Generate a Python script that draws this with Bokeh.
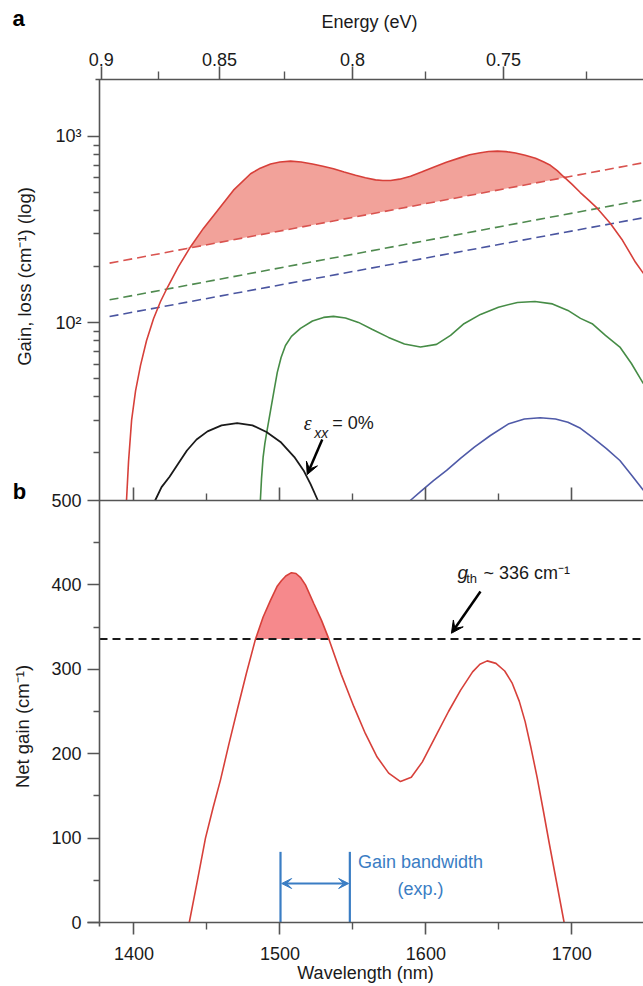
import numpy as np
from bokeh.plotting import figure
from bokeh.models import (Range1d, LogScale, LinearAxis, FixedTicker,
                          CustomJSTickFormatter, Label, Arrow, VeeHead)
from bokeh.embed import file_html
from bokeh.resources import INLINE

# ---------------- data ----------------
# Panel a: gain spectra (cm^-1, log scale) vs wavelength (nm)
red_wl = [1394.9, 1396.3, 1398.4, 1401.1, 1404.5, 1408.6, 1413.4, 1418.2, 1423.0, 1430.5,
          1438.8, 1447.7, 1457.3, 1468.2, 1479.9, 1486.5, 1493.6, 1500.0, 1507.3, 1514.5,
          1522.3, 1529.5, 1536.7, 1544.0, 1551.8, 1558.5, 1565.5, 1570.5, 1575.8, 1582.0,
          1589.5, 1597.0, 1605.2, 1614.0, 1623.7, 1630.0, 1637.4, 1643.0, 1649.0, 1655.0,
          1661.4, 1668.0, 1675.1, 1680.5, 1685.3, 1690.0, 1694.2, 1700.0, 1705.8, 1711.5,
          1717.5, 1726.4, 1734.7, 1743.6, 1749.0]
red_gain = [11.1, 18, 30, 43, 59, 80, 105, 130, 155, 200,
            256, 322, 401, 515, 631, 676, 712, 730, 737, 730,
            712, 692, 671, 645, 620, 600, 585, 580, 580, 590,
            612, 645, 684, 727, 770, 797, 818, 830, 834, 829,
            815, 793, 765, 731, 700, 656, 610, 555, 500, 455,
            411, 341, 277, 211, 184]

green_wl = [1486.6, 1487.4, 1488.5, 1489.7, 1491.2, 1493.6, 1496.0, 1498.2, 1500.8, 1503.8,
            1507.9, 1514.1, 1522.3, 1529.9, 1536.7, 1544.9, 1553.8, 1563.4, 1574.4, 1585.3,
            1596.3, 1607.3, 1616.9, 1626.1, 1637.4, 1649.7, 1662.7, 1674.7, 1686.7, 1697.3,
            1705.9, 1713.9, 1723.0, 1732.9, 1740.8, 1749.0]
green_gain = [11.1, 14.6, 19.0, 22.5, 26.4, 33.8, 43.3, 54.1, 65.1, 75.5,
              84.4, 93.2, 102.2, 106.8, 108.1, 106.1, 100.4, 92.0, 83.4, 76.9,
              74.0, 76.5, 85.5, 98.8, 110.8, 121.2, 128.5, 130.1, 126.2, 116.4,
              105.5, 98.8, 85.5, 74.0, 60.4, 47.1]

blue_wl = [1589.3, 1596.3, 1605.2, 1614.2, 1623.7, 1633.2, 1644.2, 1656.9, 1667.5, 1678.3,
           1688.8, 1697.3, 1705.9, 1713.9, 1723.7, 1732.9, 1741.5, 1749.0]
blue_gain = [11.1, 12.4, 14.2, 16.1, 18.7, 21.5, 24.8, 28.7, 30.4, 30.9,
             30.4, 29.2, 27.1, 24.3, 21.1, 18.2, 15.0, 12.6]

black_wl = [1414.5, 1418.9, 1424.4, 1430.5, 1436.3, 1442.9, 1450.4, 1460.0, 1470.7, 1481.2,
            1490.8, 1500.4, 1509.9, 1516.2, 1521.0, 1526.0]
black_gain = [11.1, 13.1, 14.9, 17.6, 20.6, 23.6, 26.1, 28.1, 28.9, 28.1,
              25.9, 22.9, 19.0, 16.1, 13.6, 11.1]

# losses (dashed, straight on the log scale)
loss_wl = [1383.3, 1749.0]
loss_red = [209, 723]
loss_green = [132.7, 457]
loss_blue = [108, 366]

# Panel b: net gain (cm^-1)
net_wl = [1437.9, 1443.5, 1449.0, 1454.2, 1459.3, 1465.0, 1470.8, 1477.0, 1483.3, 1488.5,
          1493.6, 1498.0, 1501.0, 1504.0, 1507.9, 1511.0, 1514.0, 1517.5, 1523.2, 1528.5,
          1533.5, 1542.0, 1550.6, 1558.5, 1566.6, 1574.5, 1582.6, 1590.0, 1597.5, 1607.7,
          1615.5, 1623.7, 1632.0, 1637.0, 1642.0, 1648.0, 1654.0, 1659.0, 1664.0, 1668.0,
          1672.0, 1676.2, 1680.4, 1684.6, 1689.5, 1694.7]
net_gain = [0, 50, 100, 136, 169, 211, 252, 295, 336, 362,
            382, 398, 405, 410.5, 414.5, 413.5, 409, 400, 378, 358,
            336, 294, 256, 224, 196, 177, 167, 172, 190, 224,
            250, 275, 297, 306, 310, 307, 298, 284, 262, 238,
            207, 172, 133, 93, 48, 0]
g_th = 336
bw_edges = [1500.4, 1547.9]

# ticks
HC = 1239.84
energy_major = [0.9, 0.85, 0.8, 0.75]
energy_minor = [0.875, 0.825, 0.775, 0.725]
wl_major = [1400, 1500, 1600, 1700]
wl_minor = [1450, 1550, 1650]
net_major = [0, 100, 200, 300, 400, 500]
net_minor = [50, 150, 250, 350, 450]
log_major = [100, 1000]
log_minor = [20, 30, 40, 50, 60, 70, 80, 90, 200, 300, 400, 500, 600, 700, 800, 900]

# ---------------- layout (pixels) ----------------
FONT = "Liberation Sans"
AX = "#555555"
TXT = "#1a1a1a"
W, H = 643, 986
LEFT, TOP, SPLIT, BOTTOM = 99, 79, 500, 922      # plot-area edges on the canvas
PX_PER_NM = 1.4597
X0 = 1376.4                                       # wavelength at the left axis
B_MAX = 500                                       # panel b top value
A_MIN, A_MAX = 11.1, 2023.0                       # panel a log range

x_start = X0 - LEFT / PX_PER_NM
x_end = X0 + (W - LEFT) / PX_PER_NM
b_px = (BOTTOM - SPLIT) / B_MAX                   # px per net-gain unit
y_start = -(H - BOTTOM) / b_px
y_end = BOTTOM / b_px
top_val = (BOTTOM - TOP) / b_px                   # main-range value at the top axis
dpp = (np.log10(A_MAX) - np.log10(A_MIN)) / (SPLIT - TOP)   # decades per px
a_start = 10 ** (np.log10(A_MIN) - (H - SPLIT) * dpp)
a_end = 10 ** (np.log10(A_MAX) + TOP * dpp)


def on_shared_axis(g):
    """position of a panel-a (log) value on the shared left axis (panel-b units)"""
    return B_MAX + (np.log10(g) - np.log10(A_MIN)) / dpp / b_px


def px_x(px):
    return x_start + px / PX_PER_NM


def px_y(py):
    return (BOTTOM - py) / b_px


p = figure(width=W, height=H, min_border=0, min_border_left=0, min_border_right=0,
           min_border_top=0, min_border_bottom=0,
           x_range=Range1d(x_start, x_end), y_range=Range1d(y_start, y_end),
           x_axis_location=None, y_axis_location=None,
           output_backend="svg", toolbar_location=None)
p.outline_line_color = None
p.grid.visible = False
p.background_fill_color = "white"
p.border_fill_color = "white"
p.extra_y_ranges = {"loga": Range1d(a_start, a_end)}
p.extra_y_scales = {"loga": LogScale()}


def style(ax, tout, mout, tin=0, min_=0):
    ax.axis_line_color = AX
    ax.axis_line_width = 1.6
    ax.major_tick_line_color = AX
    ax.major_tick_line_width = 1.6
    ax.minor_tick_line_color = AX
    ax.minor_tick_line_width = 1.4
    ax.major_tick_out = tout
    ax.major_tick_in = tin
    ax.minor_tick_out = mout
    ax.minor_tick_in = min_
    ax.major_label_text_font = FONT
    ax.major_label_text_font_size = "18px"
    ax.major_label_text_color = TXT
    ax.axis_label_text_font = FONT
    ax.axis_label_text_font_size = "18px"
    ax.axis_label_text_font_style = "normal"
    ax.axis_label_text_color = TXT


# bottom wavelength axis (panel b)
xb = LinearAxis(fixed_location=0, bounds=(X0 - 12.5 / PX_PER_NM, x_end),
                ticker=FixedTicker(ticks=wl_major, minor_ticks=wl_minor),
                axis_label="Wavelength (nm)")
style(xb, 12, 7)
xb.major_label_standoff = 12
xb.axis_label_standoff = 0
p.add_layout(xb, "below")

# bottom axis of panel a (ticks pointing inwards, no labels)
ax_ab = LinearAxis(fixed_location=B_MAX, bounds=(X0, x_end),
                   ticker=FixedTicker(ticks=wl_major, minor_ticks=wl_minor),
                   formatter=CustomJSTickFormatter(code="return ''"))
style(ax_ab, 0, 0, 13, 7)
ax_ab.major_label_text_font_size = "0px"
ax_ab.major_label_standoff = 0
p.add_layout(ax_ab, "below")

# shared left axis: linear net gain (panel b) + log gain ticks (panel a)
a_major_pos = [float(on_shared_axis(g)) for g in log_major]
a_minor_pos = [float(on_shared_axis(g)) for g in log_minor]
yl = LinearAxis(fixed_location=X0, bounds=(-4 / b_px, top_val),
                ticker=FixedTicker(ticks=net_major + a_major_pos, minor_ticks=net_minor + a_minor_pos),
                formatter=CustomJSTickFormatter(
                    args=dict(bmax=B_MAX, lmin=float(np.log10(A_MIN)), k=float(dpp * b_px)),
                    code="""
    if (tick <= bmax + 1e-6) { return String(Math.round(tick)); }
    const e = Math.round(lmin + (tick - bmax) * k);
    const sup = {"0":"\u2070","1":"\u00b9","2":"\u00b2","3":"\u00b3","4":"\u2074"};
    return "10" + String(e).split("").map(c => sup[c]).join("");
"""))
style(yl, 12, 6)
yl.major_label_standoff = 6
p.add_layout(yl, "left")

# top energy axis (panel a)
ax_top = LinearAxis(fixed_location=top_val, bounds=(X0 - 4 / PX_PER_NM, x_end),
                    ticker=FixedTicker(ticks=[HC / e for e in energy_major],
                                       minor_ticks=[HC / e for e in energy_minor]),
                    formatter=CustomJSTickFormatter(
                        code="return String(Number((%s / tick).toFixed(3)))" % HC),
                    axis_label="Energy (eV)")
style(ax_top, 13, 8)
ax_top.major_label_standoff = 1
ax_top.axis_label_standoff = 18
p.add_layout(ax_top, "above")

# ---------------- panel a glyphs ----------------
red_wl_a = np.array(red_wl, dtype=float)
red_g_a = np.array(red_gain, dtype=float)
dash_at = 10 ** np.interp(red_wl_a, loss_wl, np.log10(loss_red))
p.varea(x=red_wl_a, y1=dash_at, y2=np.maximum(red_g_a, dash_at),
        fill_color="#f2a29a", fill_alpha=1.0, y_range_name="loga")

p.line(loss_wl, loss_red, line_color="#d9534f", line_width=1.6, line_dash="9 5", y_range_name="loga")
p.line(loss_wl, loss_green, line_color="#4f8a4f", line_width=1.6, line_dash="9 5", y_range_name="loga")
p.line(loss_wl, loss_blue, line_color="#4a55a0", line_width=1.6, line_dash="9 5", y_range_name="loga")

p.line(red_wl, red_gain, line_color="#d7403a", line_width=1.6, y_range_name="loga")
p.line(green_wl, green_gain, line_color="#468c46", line_width=1.6, y_range_name="loga")
p.line(blue_wl, blue_gain, line_color="#4f5aa8", line_width=1.6, y_range_name="loga")
p.line(black_wl, black_gain, line_color="#1a1a1a", line_width=1.8, y_range_name="loga")

# epsilon annotation
p.add_layout(Label(x=1516.4, y=28.8, text="\u03b5", text_font="Liberation Serif",
                   text_font_style="italic", text_font_size="20px", text_color=TXT,
                   text_baseline="middle", text_align="left", y_range_name="loga"))
p.add_layout(Label(x=1523.6, y=25.6, text="xx", text_font=FONT, text_font_style="italic",
                   text_font_size="14px", text_color=TXT, text_baseline="middle",
                   text_align="left", y_range_name="loga"))
p.add_layout(Label(x=1535.8, y=28.8, text="= 0%", text_font=FONT, text_font_size="18px",
                   text_color=TXT, text_baseline="middle", text_align="left",
                   y_range_name="loga"))
p.add_layout(Arrow(end=VeeHead(size=12, fill_color="black", line_color="black"),
                   x_start=1529.0, y_start=23.6, x_end=1518.7, y_end=15.3,
                   line_width=2.5, line_color="black", y_range_name="loga"))

# ---------------- panel b glyphs ----------------
net_g = np.array(net_gain, dtype=float)
p.varea(x=net_wl, y1=g_th, y2=np.maximum(net_g, g_th), fill_color="#f6898c", fill_alpha=1.0)
p.line([X0, x_end], [g_th, g_th], line_color="#1a1a1a", line_width=2, line_dash="8 5")
p.line(net_wl, net_gain, line_color="#d7403a", line_width=1.6)

p.add_layout(Label(x=1621.6, y=414.3, text="g", text_font=FONT, text_font_style="italic",
                   text_font_size="19px", text_color=TXT, text_baseline="middle", text_align="left"))
p.add_layout(Label(x=1627.6, y=407, text="th", text_font=FONT, text_font_size="13px",
                   text_color=TXT, text_baseline="middle", text_align="left"))
p.add_layout(Label(x=1639.4, y=414.3, text="~ 336 cm\u207b\u00b9", text_font=FONT,
                   text_font_size="18px", text_color=TXT, text_baseline="middle", text_align="left"))
p.add_layout(Arrow(end=VeeHead(size=12, fill_color="black", line_color="black"),
                   x_start=1637.4, y_start=392.1, x_end=1617.5, y_end=342.7,
                   line_width=2.5, line_color="black"))

BLUE = "#3a7dc4"
p.segment(x0=bw_edges, y0=[0, 0], x1=bw_edges, y1=[83.7, 83.7], line_color=BLUE, line_width=2.2)
p.add_layout(Arrow(start=VeeHead(size=10, fill_color=BLUE, line_color=BLUE),
                   end=VeeHead(size=10, fill_color=BLUE, line_color=BLUE),
                   x_start=bw_edges[0] + 0.8, y_start=46.2, x_end=bw_edges[1] - 0.8, y_end=46.2,
                   line_width=2.2, line_color=BLUE))
p.add_layout(Label(x=1596.3, y=71.5, text="Gain bandwidth", text_font=FONT, text_font_size="18px",
                   text_color=BLUE, text_baseline="middle", text_align="center"))
p.add_layout(Label(x=1596.3, y=39.6, text="(exp.)", text_font=FONT, text_font_size="18px",
                   text_color=BLUE, text_baseline="middle", text_align="center"))

# ---------------- axis titles and panel letters ----------------
p.add_layout(Label(x=px_x(24), y=px_y(276), text="Gain, loss (cm\u207b\u00b9) (log)", angle=np.pi / 2,
                   text_font=FONT, text_font_size="18.5px", text_color=TXT,
                   text_baseline="middle", text_align="center"))
p.add_layout(Label(x=px_x(22), y=px_y(726), text="Net gain (cm\u207b\u00b9)", angle=np.pi / 2,
                   text_font=FONT, text_font_size="18.5px", text_color=TXT,
                   text_baseline="middle", text_align="center"))
p.add_layout(Label(x=px_x(18), y=px_y(18), text="a", text_font=FONT, text_font_style="bold",
                   text_font_size="22px", text_color="black", text_baseline="middle",
                   text_align="center"))
p.add_layout(Label(x=px_x(19), y=px_y(491), text="b", text_font=FONT, text_font_style="bold",
                   text_font_size="22px", text_color="black", text_baseline="middle",
                   text_align="center"))

open("out.html", "w").write(file_html(p, INLINE))
